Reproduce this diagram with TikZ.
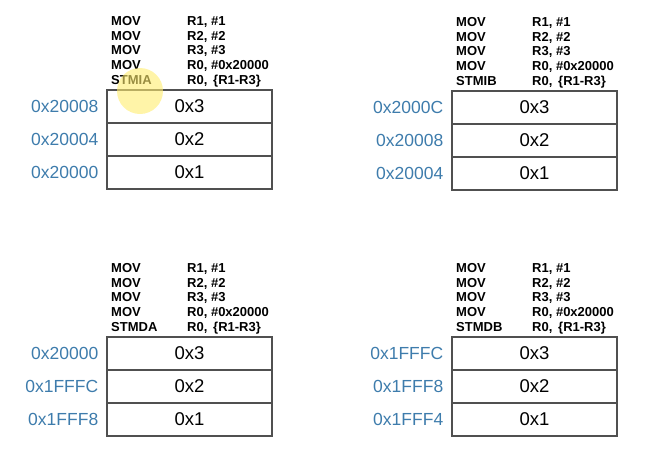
\documentclass[tikz,border=0pt]{standalone}
\usepackage{fontspec}
\setmainfont{Liberation Sans}
\usetikzlibrary{positioning}
\definecolor{addrblue}{RGB}{62,124,172}
\definecolor{cellgray}{RGB}{80,80,80}
\definecolor{hilite}{RGB}{255,236,110}
\tikzset{
	cell/.style={draw=cellgray, line width=1.1pt, minimum width=165pt, minimum height=33pt, inner sep=0pt, font=\fontsize{18.5}{20}\selectfont},
	addr/.style={text=addrblue, inner sep=0pt, font=\fontsize{17.5}{19}\selectfont},
	code/.style={anchor=west, inner sep=0pt, text height=9pt, text depth=0pt, font=\fontsize{13}{14}\selectfont\bfseries}
}
\begin{document}
\begin{tikzpicture}[x=1pt, y=-1pt]
		\useasboundingbox (0,0) rectangle (649,461);
		\foreach \n/\x/\y/\ins/\a/\b/\c in {ia/107/90/STMIA/0x20008/0x20004/0x20000, ib/452/91/STMIB/0x2000C/0x20008/0x20004, da/107/337/STMDA/0x20000/0x1FFFC/0x1FFF8, db/452/337/STMDB/0x1FFFC/0x1FFF8/0x1FFF4} {
				% memory words
				\foreach \r/\ad in {3/\a, 2/\b, 1/\c} {
						\node[cell] (\n-\r) at ({\x+82.5},{\y+16.5+(3-\r)*33}) {0x\r};
						\node[addr, left=8pt of \n-\r] (\n-a\r) {\ad};
					}
				% instructions
				\foreach \k/\op in {1/{R1, \#1}, 2/{R2, \#2}, 3/{R3, \#3}, 4/{R0, \#0x20000}} {
						\node[code] (\n-m\k) at ({\x+4},{\y-10.5-(5-\k)*14.6}) {MOV};
						\node[code] (\n-o\k) at ({\x+80},{\y-10.5-(5-\k)*14.6}) {\op};
					}
				\node[code] (\n-m5) at ({\x+4},{\y-10.5}) {\ins};
				\node[code] (\n-o5) at ({\x+80},{\y-10.5}) {R0,\,\ \{R1-R3\}};
			}
		\fill[hilite, fill opacity=0.6] (140,91) circle (23);
	\end{tikzpicture}
\end{document}
